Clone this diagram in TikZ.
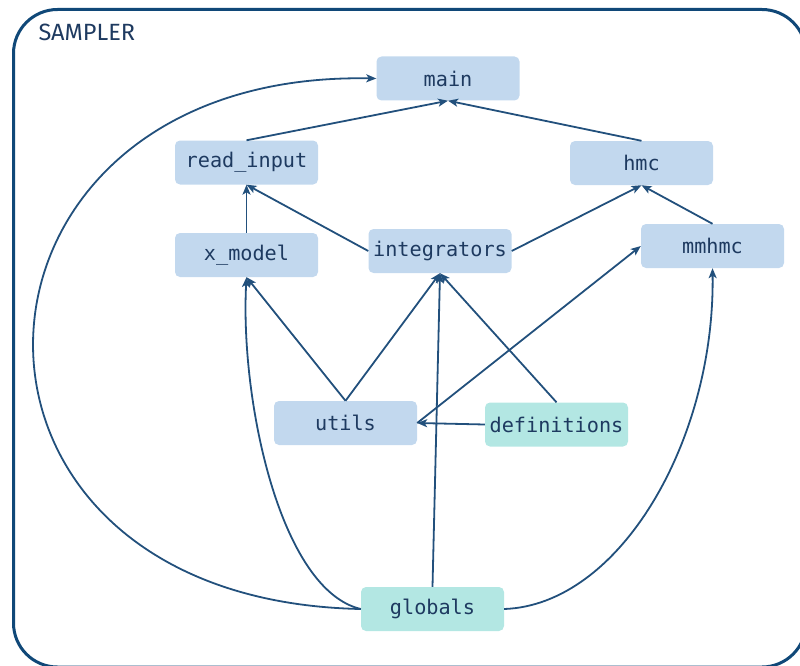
\documentclass[tikz,border=0pt]{standalone}
\usepackage{fontspec}
\setmainfont{Fira Sans}
\setmonofont{DejaVu Sans Mono}
\usetikzlibrary{arrows.meta}
\definecolor{boxblue}{HTML}{C2D8EE}
\definecolor{boxteal}{HTML}{B3E7E3}
\definecolor{edgec}{HTML}{22507C}
\definecolor{framec}{HTML}{104878}
\definecolor{txtc}{HTML}{1E3A60}
\tikzset{
  mod/.style={fill=boxblue, rounded corners=5pt, minimum width=143pt, minimum height=44pt,
    inner sep=0pt, text=txtc, font=\fontsize{20.2}{23}\selectfont\ttfamily},
  modt/.style={mod, fill=boxteal},
  dep/.style={draw=edgec, line width=1.8pt, -{Stealth[length=10pt,width=8pt,inset=2.5pt]}},
}
\begin{document}
\begin{tikzpicture}[x=1pt,y=-1pt]
\useasboundingbox (0,0) rectangle (800,666);
\begin{scope}
\clip (0,0) rectangle (800,666);
\draw[framec, line width=3pt, rounded corners=44pt] (13.5,9.5) rectangle (806,667);
\end{scope}
\node[anchor=base west, text=txtc, font=\fontsize{23.5}{27}\selectfont] (title) at (35,40.5) {SAMPLER};

\node[mod] (main) at (448,78.5) {main};
\node[mod] (read) at (246.5,162.5) {read\_input};
\node[mod] (hmc) at (641.5,163) {hmc};
\node[mod] (xmodel) at (246.5,255) {x\_model};
\node[mod] (integ) at (440,251) {integrators};
\node[mod] (mmhmc) at (712.5,246) {mmhmc};
\node[mod] (utils) at (345.5,423) {utils};
\node[modt] (defs) at (556.5,424.5) {definitions};
\node[modt] (glob) at (432.5,609) {globals};

\draw[dep] (read.north) -- (main.south);
\draw[dep] (hmc.north) -- (main.south);
\draw[dep] (xmodel.north) -- (read.south);
\draw[dep] (integ.west) -- (read.south);
\draw[dep] (integ.east) -- (hmc.south);
\draw[dep] (mmhmc.north) -- (hmc.south);
\draw[dep] (utils.north) -- (xmodel.south);
\draw[dep] (utils.north) -- (integ.south);
\draw[dep] (defs.north) -- (integ.south);
\draw[dep] (defs.west) -- (utils.east);
\draw[dep] (utils.east) -- (mmhmc.west);
\draw[dep] (glob.north) -- (integ.south);
\draw[dep] (glob.west) .. controls (280,590) and (240,400) .. (xmodel.south);
\draw[dep] (glob.west) .. controls (-90,600) and (-65,70) .. (main.west);
\draw[dep] (glob.east) .. controls (620,605) and (715,440) .. (mmhmc.south);
\end{tikzpicture}
\end{document}
